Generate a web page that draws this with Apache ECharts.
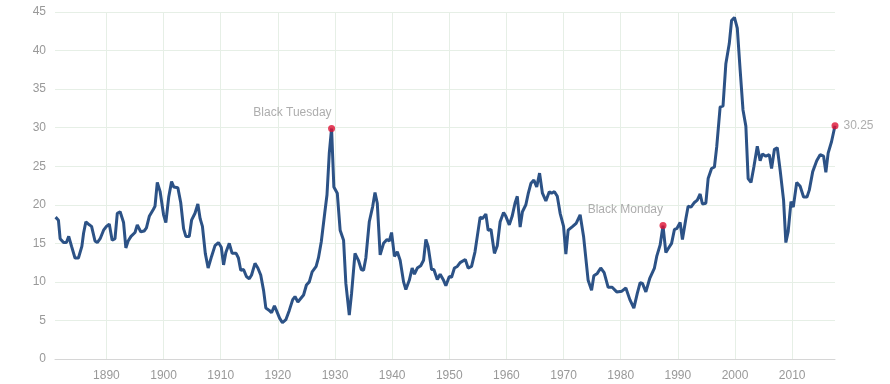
<!DOCTYPE html>
<html>
<head>
<meta charset="utf-8">
<script src="https://cdn.jsdelivr.net/npm/echarts@6/dist/echarts.min.js"></script>
<style>html,body{margin:0;padding:0;background:#fff}#c{width:890px;height:384px}</style>
</head>
<body>
<div id="c"></div>
<script>
const years = [1881.1,1881.6,1881.9,1882.5,1883.0,1883.4,1883.9,1884.5,1885.1,1885.7,1886.0,1886.4,1887.0,1887.4,1888.0,1888.4,1888.9,1889.5,1890.0,1890.5,1891.0,1891.5,1891.9,1892.4,1893.0,1893.4,1893.8,1894.3,1895.0,1895.4,1896.0,1896.6,1897.0,1897.5,1898.2,1898.5,1898.9,1899.4,1900.0,1900.4,1900.9,1901.4,1901.8,1902.5,1903.0,1903.5,1903.9,1904.5,1904.9,1905.5,1906.0,1906.4,1906.8,1907.3,1907.8,1908.4,1909.0,1909.6,1910.1,1910.5,1910.9,1911.5,1912.0,1912.7,1913.1,1913.5,1914.0,1914.5,1915.0,1915.4,1916.0,1916.5,1917.0,1917.5,1917.9,1918.5,1918.9,1919.4,1919.8,1920.3,1920.8,1921.4,1922.0,1922.6,1923.0,1923.5,1924.5,1925.0,1925.5,1926.0,1926.7,1927.1,1927.6,1928.2,1928.6,1929.0,1929.4,1929.8,1930.4,1930.9,1931.5,1931.9,1932.5,1932.9,1933.5,1934.1,1934.6,1935.0,1935.4,1936.0,1936.6,1937.0,1937.4,1937.9,1938.5,1939.1,1939.5,1939.9,1940.4,1940.9,1941.4,1942.0,1942.4,1943.0,1943.5,1943.9,1944.4,1945.0,1945.5,1945.9,1946.3,1946.9,1947.3,1947.9,1948.4,1949.0,1949.4,1950.0,1950.4,1950.9,1951.4,1951.9,1952.8,1953.3,1953.9,1954.5,1954.9,1955.4,1955.8,1956.4,1956.8,1957.3,1957.9,1958.4,1958.9,1959.5,1959.9,1960.5,1961.0,1961.5,1961.9,1962.4,1962.8,1963.4,1963.8,1964.3,1964.8,1965.3,1965.8,1966.3,1966.9,1967.5,1967.9,1968.4,1968.9,1969.4,1970.0,1970.4,1970.8,1971.6,1972.2,1972.9,1973.5,1974.3,1974.9,1975.3,1975.9,1976.5,1977.1,1977.8,1978.5,1979.3,1980.2,1980.9,1981.6,1982.3,1982.9,1983.4,1983.8,1984.4,1985.1,1985.9,1986.3,1986.9,1987.4,1987.9,1988.3,1988.9,1989.4,1989.8,1990.4,1990.8,1991.4,1991.8,1992.3,1992.9,1993.4,1993.9,1994.3,1994.9,1995.3,1995.9,1996.4,1996.8,1997.4,1997.9,1998.4,1999.0,1999.4,1999.9,2000.4,2000.9,2001.4,2001.9,2002.3,2002.8,2003.3,2003.9,2004.4,2004.8,2005.4,2006.0,2006.4,2006.9,2007.4,2007.9,2008.5,2008.9,2009.3,2009.8,2010.2,2010.8,2011.4,2012.0,2012.6,2013.0,2013.6,2014.3,2014.9,2015.5,2015.9,2016.3,2016.9,2017.5];
const pe = [18.4,18.0,15.6,15.1,15.1,15.9,14.6,13.1,13.1,14.6,16.3,17.8,17.4,17.2,15.3,15.1,15.6,16.7,17.2,17.5,15.4,15.6,18.9,19.1,17.7,14.4,15.3,15.9,16.4,17.4,16.5,16.6,17.0,18.5,19.4,19.8,22.9,21.7,18.7,17.7,21.0,23.0,22.3,22.2,20.3,16.9,15.9,15.9,18.0,18.9,20.1,18.2,17.2,13.7,11.8,13.3,14.7,15.1,14.5,12.2,13.8,15.0,13.7,13.7,13.1,11.5,11.6,10.7,10.4,10.9,12.4,11.8,10.9,8.9,6.6,6.3,6.0,6.9,6.2,5.3,4.7,5.1,6.3,7.7,8.1,7.4,8.3,9.6,10.0,11.3,12.0,13.1,15.2,18.9,21.3,26.7,29.9,22.3,21.5,16.7,15.4,9.8,5.7,8.5,13.7,12.8,11.6,11.5,13.1,17.8,19.8,21.6,20.2,13.5,15.0,15.5,15.3,16.4,13.3,13.9,12.8,10.0,9.0,10.2,11.8,11.0,11.8,12.1,12.8,15.5,14.6,11.6,11.6,10.3,11.0,10.2,9.5,10.7,10.6,11.8,12.0,12.5,12.9,11.8,12.0,13.9,15.9,18.4,18.2,18.8,16.7,16.8,13.7,14.7,17.8,19.0,18.5,17.4,18.5,20.2,21.1,17.1,19.1,20.0,21.4,22.8,23.2,22.3,24.1,21.5,20.5,21.7,21.5,21.7,21.1,18.9,17.2,13.6,16.7,17.2,17.6,18.7,15.9,10.2,8.9,10.8,11.1,11.8,11.2,9.3,9.3,8.7,8.8,9.2,7.7,6.6,8.5,9.9,9.8,8.7,10.5,11.8,13.3,14.8,17.3,13.8,14.3,15.0,16.8,16.9,17.7,15.5,18.2,19.8,19.7,20.3,20.6,21.4,20.1,20.2,23.4,24.7,24.9,27.5,32.7,32.8,38.3,40.9,43.9,44.3,42.9,37.5,32.3,30.2,23.4,22.9,24.9,27.6,25.7,26.6,26.3,26.5,24.7,27.2,27.4,24.5,20.6,15.1,16.5,20.4,19.7,22.9,22.4,21.0,21.0,21.9,24.3,25.7,26.5,26.3,24.2,26.7,28.2,30.25];
const xTicks = [1890,1900,1910,1920,1930,1940,1950,1960,1970,1980,1990,2000,2010];
const yTicks = [0,5,10,15,20,25,30,35,40,45];
const eventYears = [1929.4, 1987.4];
const eventValues = [29.9, 17.3];
const eventNames = ['Black Tuesday', 'Black Monday'];
const lastYear = 2017.5;
const lastValue = 30.25;

const chart = echarts.init(document.getElementById('c'));
const FONT = '"Liberation Sans", Arial, sans-serif';
const labelColor = '#999999';
chart.setOption({
  animation: false,
  grid: { left: 55, right: 55, top: 12, bottom: 25, containLabel: false },
  xAxis: {
    type: 'value', min: 1881, max: lastYear,
    axisLine: { show: true, lineStyle: { color: '#d6d6d6', width: 1 } },
    axisTick: { show: false, customValues: xTicks },
    axisLabel: { customValues: xTicks, formatter: v => String(v), color: labelColor, fontSize: 12, fontFamily: FONT, margin: 11 },
    splitLine: { show: true, lineStyle: { color: '#e6efe6', width: 1 } }
  },
  yAxis: {
    type: 'value', min: yTicks[0], max: yTicks[yTicks.length-1], interval: 5,
    axisLine: { show: false }, axisTick: { show: false },
    axisLabel: { color: labelColor, fontSize: 12, fontFamily: FONT, margin: 9 },
    splitLine: { lineStyle: { color: '#e6efe6', width: 1 } }
  },
  series: [
    {
      type: 'line', data: years.map((y, i) => [y, pe[i]]),
      showSymbol: false, symbol: 'none',
      lineStyle: { color: '#2c5286', width: 3 }, z: 2
    },
    {
      type: 'scatter', symbolSize: 7, z: 3,
      itemStyle: { color: '#dd1133' },
      data: eventYears.map((y, i) => ({ value: [y, eventValues[i]], name: eventNames[i] })),
      label: { show: true, position: 'top', align: 'right', distance: 6,
        formatter: p => p.name, color: labelColor, fontSize: 12, fontFamily: FONT }
    },
    {
      type: 'scatter', symbolSize: 7, z: 3,
      itemStyle: { color: '#dd1133' },
      data: [[lastYear, lastValue]],
      label: { show: true, position: 'right', distance: 5,
        formatter: () => lastValue.toFixed(2), color: labelColor, fontSize: 12, fontFamily: FONT }
    }
  ]
});
</script>
</body>
</html>
